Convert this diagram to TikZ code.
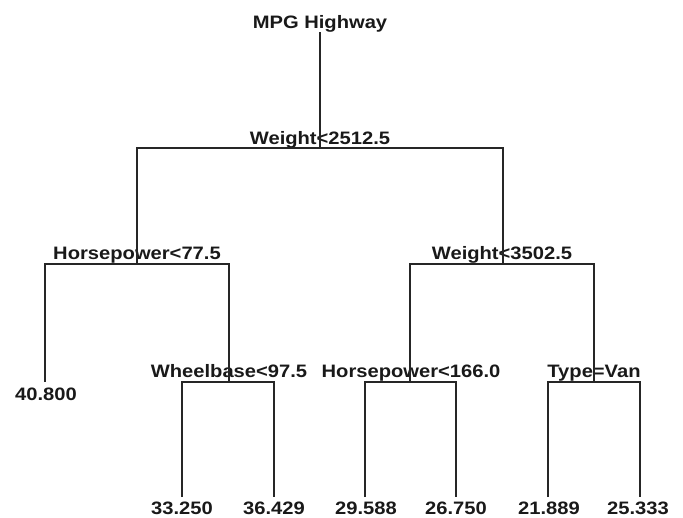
\documentclass[tikz,border=0pt]{standalone}
\usepackage{fontspec}
\setmainfont{Liberation Sans}
\usepackage{tikz}

\begin{document}
\begin{tikzpicture}[
  x=1pt, y=-1pt,
  split/.style={font=\bfseries\fontsize{18}{20}\selectfont, text=black!90, inner sep=0pt, anchor=base, xscale=1.12},
  leaf/.style={split},
  branch/.style={draw=black!85, line width=1.4pt}
]
\useasboundingbox (0,0) rectangle (683,517);

\node[split] (mpg) at (320,28) {MPG Highway};

\coordinate (wt1) at (320,148);
\coordinate (hp1) at (137,264);
\coordinate (wt2) at (503,264);
\coordinate (wb)  at (229,382);
\coordinate (hp2) at (410,382);
\coordinate (ty)  at (594,382);

\node[split] (wt1txt) at (320,144) {Weight<2512.5};
\node[split] (hp1txt) at (137,259) {Horsepower<77.5};
\node[split] (wt2txt) at (502,259) {Weight<3502.5};
\node[split] (wbtxt)  at (229,377) {Wheelbase<97.5};
\node[split] (hp2txt) at (411,377) {Horsepower<166.0};
\node[split] (tytxt)  at (594,377) {Type=Van};

\coordinate (l1) at (45,382);
\coordinate (l2) at (182,497);
\coordinate (l3) at (274,497);
\coordinate (l4) at (365,497);
\coordinate (l5) at (456,497);
\coordinate (l6) at (548,497);
\coordinate (l7) at (640,497);

\node[leaf] (v1) at (46,400) {40.800};
\node[leaf] (v2) at (182,514) {33.250};
\node[leaf] (v3) at (274,514) {36.429};
\node[leaf] (v4) at (366,514) {29.588};
\node[leaf] (v5) at (456,514) {26.750};
\node[leaf] (v6) at (549,514) {21.889};
\node[leaf] (v7) at (638,514) {25.333};

\draw[branch] (mpg.south) -- (wt1);
\draw[branch] (hp1) |- (wt1) -| (wt2);
\draw[branch] (l1) |- (hp1) -| (wb);
\draw[branch] (hp2) |- (wt2) -| (ty);
\draw[branch] (l2) |- (wb) -| (l3);
\draw[branch] (l4) |- (hp2) -| (l5);
\draw[branch] (l6) |- (ty) -| (l7);
\end{tikzpicture}
\end{document}
